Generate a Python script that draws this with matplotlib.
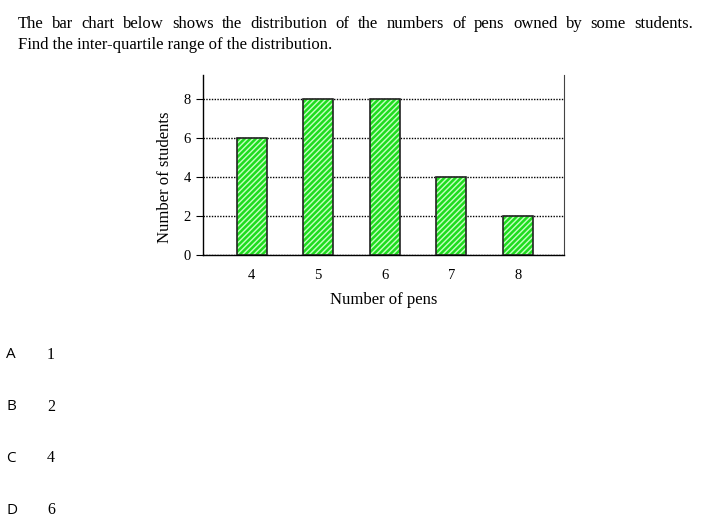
import matplotlib.pyplot as plt
import matplotlib as mpl

# data
pens = [4, 5, 6, 7, 8]
students = [6, 8, 8, 4, 2]
y_ticks = [0, 2, 4, 6, 8]
question_line1 = "The bar chart below shows the distribution of the numbers of pens owned by some students."
question_line2 = "Find the inter-quartile range of the distribution."
options = ["A", "B", "C", "D"]
answers = ["1", "2", "4", "6"]

serif = "Liberation Serif"
mpl.rcParams['hatch.linewidth'] = 1.8

fig = plt.figure(figsize=(7.18, 5.26), dpi=100)
W, H = 718, 526

# question text, first line justified between x=18 and x=693
words = question_line1.split()
renderer = fig.canvas.get_renderer()
tmp = [fig.text(0, 0, w, family=serif, fontsize=12) for w in words]
widths = [t.get_window_extent(renderer).width for t in tmp]
for t in tmp:
    t.remove()
x0, x1 = 18, 693
gap = (x1 - x0 - sum(widths)) / (len(words) - 1)
x = x0
for w, wd in zip(words, widths):
    fig.text(x / W, 1 - 24 / H, w, family=serif, fontsize=12, va='center')
    x += wd + gap
fig.text(18 / W, 1 - 45 / H, question_line2, family=serif, fontsize=12, va='center')

# chart
ax = fig.add_axes([203 / W, 1 - 255 / H, (564 - 203) / W, (255 - 75) / H])
# hatched green fill, then dark outline on top
ax.bar(pens, students, width=0.45, facecolor='#c4ffc0', edgecolor='#1edc1e',
       hatch='//////', linewidth=0, zorder=3)
ax.bar(pens, students, width=0.45, facecolor='none', edgecolor='#222222',
       linewidth=1.2, zorder=4)
ax.set_xlim(3.27, 8.69)
ax.set_ylim(0, 9.23)
ax.set_yticks(y_ticks)
ax.set_xticks(pens)
ax.yaxis.grid(True, linestyle=(0, (1, 1)), color='black', linewidth=1.0, zorder=0)
ax.spines['top'].set_visible(False)
ax.spines['right'].set_color('#444444')
ax.spines['left'].set_linewidth(1.0)
ax.spines['bottom'].set_linewidth(1.0)
ax.tick_params(axis='x', length=0, pad=10)
ax.tick_params(axis='y', length=5, direction='out', pad=4)
for lab in ax.get_xticklabels() + ax.get_yticklabels():
    lab.set_family(serif)
    lab.set_fontsize(10.5)
ax.set_xlabel("Number of pens", family=serif, fontsize=12, labelpad=7)
ax.set_ylabel("Number of students", family=serif, fontsize=12)
ax.yaxis.set_label_coords(-0.082, 0.43)

# answer options
for i, (o, a) in enumerate(zip(options, answers)):
    yy = 1 - (355 + 51.7 * i) / H
    fig.text(6 / W, yy, o, family="Open Sans", fontsize=11, va='center')
    fig.text(47 / W, yy, a, family=serif, fontsize=11.5, va='center')

fig.savefig("out.png", dpi=100)
